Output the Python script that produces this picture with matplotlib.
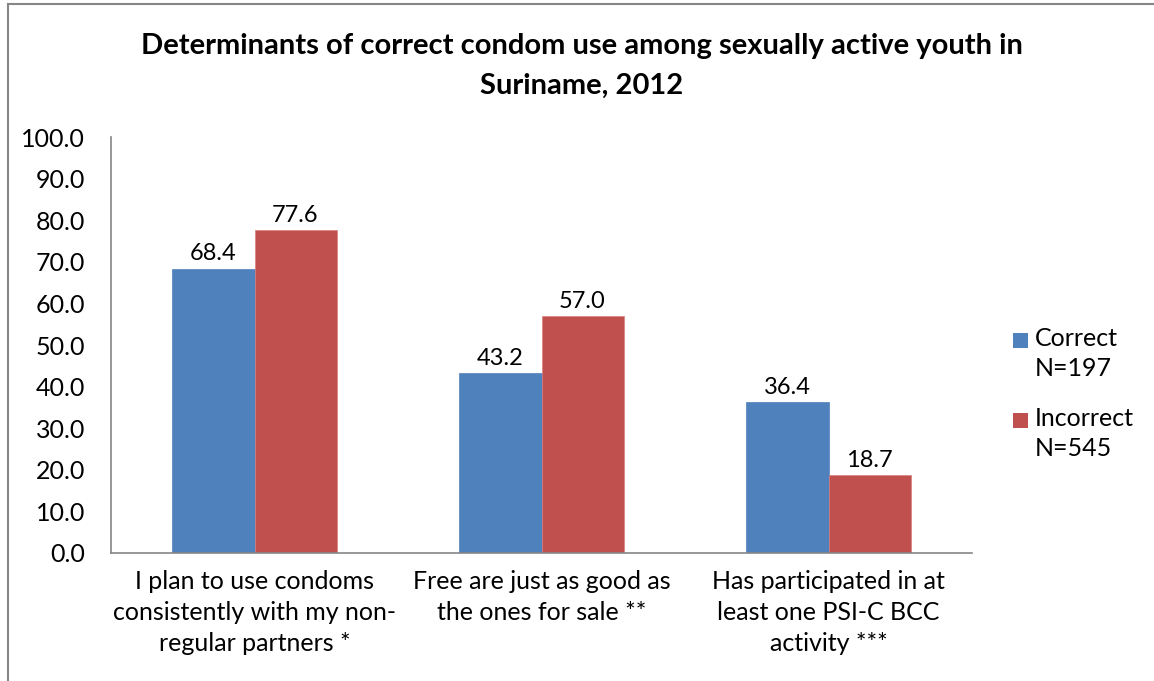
import matplotlib
matplotlib.use("Agg")
import matplotlib.pyplot as plt
import numpy as np
from matplotlib.lines import Line2D
from matplotlib.patches import Rectangle

plt.rcParams['font.family'] = ['Lato', 'DejaVu Sans']

categories = [
    "I plan to use condoms\nconsistently with my non-\nregular partners *",
    "Free are just as good as\nthe ones for sale **",
    "Has participated in at\nleast one PSI-C BCC\nactivity ***",
]
correct = [68.4, 43.2, 36.4]
incorrect = [77.6, 57.0, 18.7]
series_labels = ["Correct\nN=197", "Incorrect\nN=545"]
yticks = [0, 10, 20, 30, 40, 50, 60, 70, 80, 90, 100]
title = "Determinants of correct condom use among sexually active youth in\nSuriname, 2012"

blue = "#4F81BD"
red = "#C0504D"
axis_gray = "#868686"
FS = 18

fig = plt.figure(figsize=(11.54, 6.81), dpi=100)
ax = fig.add_axes([0.0962, 0.188, 0.7461, 0.6107])

x = np.arange(len(categories))
w = 0.286
b1 = ax.bar(x - w / 2, correct, width=w, color=blue, edgecolor=blue, linewidth=0.5)
b2 = ax.bar(x + w / 2, incorrect, width=w, color=red, edgecolor="#D9807E", linewidth=0.5)

for bars, vals in ((b1, correct), (b2, incorrect)):
    for rect, v in zip(bars, vals):
        ax.annotate(f"{v:.1f}", (rect.get_x() + rect.get_width() / 2, v),
                    xytext=(0, 10.5), textcoords="offset points",
                    ha="center", va="center", fontsize=17)

ax.set_xlim(-0.5, len(categories) - 0.5)
ax.set_ylim(0, 100)
ax.set_yticks(yticks)
ax.set_yticklabels([f"{t:.1f}" for t in yticks], fontsize=FS)
ax.set_xticks(x)
ax.set_xticklabels(categories, fontsize=FS, linespacing=1.42)
ax.tick_params(axis="both", length=0)
ax.tick_params(axis="y", pad=18.5)
ax.tick_params(axis="x", pad=12)

for s in ("top", "right"):
    ax.spines[s].set_visible(False)
for s in ("left", "bottom"):
    ax.spines[s].set_color(axis_gray)
    ax.spines[s].set_linewidth(1.2)

fig.suptitle(title, fontsize=21, fontweight="bold", x=0.504, y=0.951,
             va="top", linespacing=1.65)

# legend: colour square beside the first line of each two-line label
legend_colors = [blue, red]
legend_y = [340, 420]
for col, lab, ypx in zip(legend_colors, series_labels, legend_y):
    yf = 1 - ypx / 681
    fig.add_artist(Rectangle((1013 / 1154, yf - 7.5 / 681), 15 / 1154, 15 / 681,
                             transform=fig.transFigure, facecolor=col, edgecolor="none"))
    fig.text(1035 / 1154, yf + 13 / 681, lab, fontsize=FS, va="top", ha="left",
             linespacing=1.38)

# chart area frame (top and left edges)
fig.add_artist(Line2D([0.007, 0.007], [0, 0.994], transform=fig.transFigure,
                      color=axis_gray, linewidth=1.5))
fig.add_artist(Line2D([0.007, 1.0], [0.994, 0.994], transform=fig.transFigure,
                      color=axis_gray, linewidth=1.5))

fig.savefig("out.png", dpi=100, facecolor="white")
